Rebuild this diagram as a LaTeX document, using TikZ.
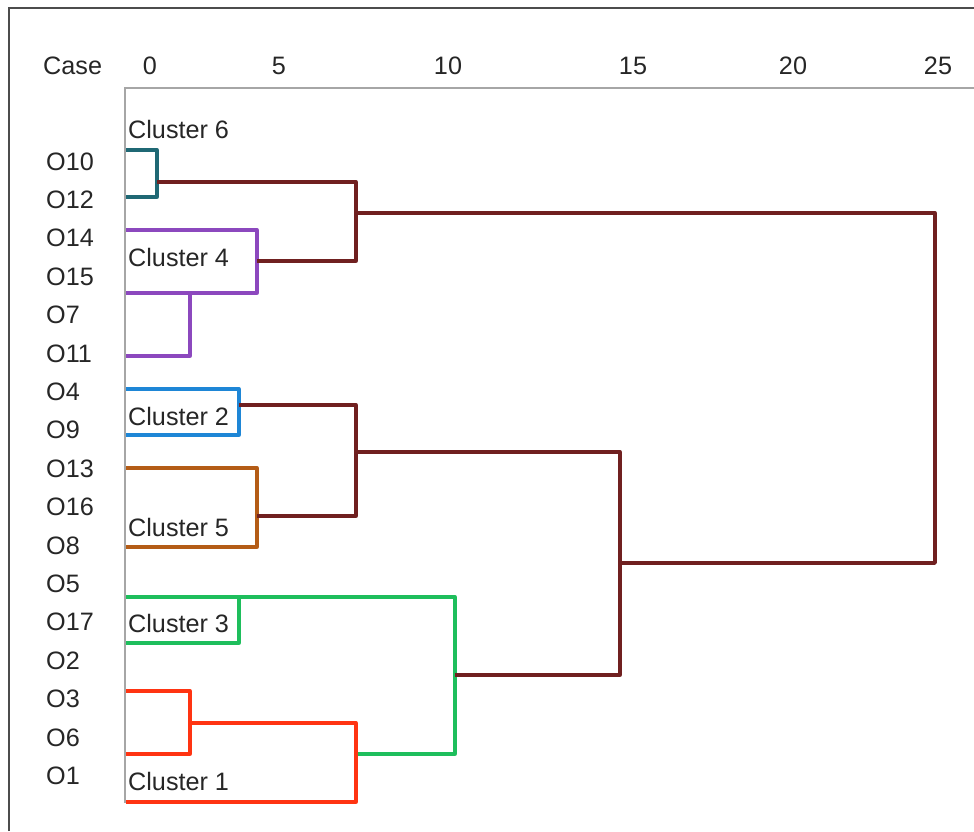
\documentclass[tikz,border=0pt]{standalone}
\usepackage{fontspec}
\setmainfont{Liberation Sans}
\usepackage{xcolor}
\usepackage{tikz}
\usetikzlibrary{positioning, calc}

\definecolor{clteal}{RGB}{31,104,116}
\definecolor{clpurple}{RGB}{140,72,190}
\definecolor{clblue}{RGB}{30,134,214}
\definecolor{clorange}{RGB}{180,92,22}
\definecolor{clgreen}{RGB}{30,190,92}
\definecolor{clred}{RGB}{255,52,18}
\definecolor{clbrown}{RGB}{112,32,32}

\tikzset{
  branch/.style={line width=3.3pt, line join=round, line cap=butt},
  axisline/.style={line width=2pt, color=black!35},
  frameline/.style={line width=2.4pt, color=black!70},
  lbl/.style={anchor=base west, inner sep=0pt, text=black!85, font=\fontsize{25.2}{30}\selectfont},
  tick/.style={anchor=base, inner sep=0pt, text=black!85, font=\fontsize{25.2}{30}\selectfont}
}

\begin{document}
\begin{tikzpicture}[x=1pt, y=-1pt]
  \useasboundingbox (0,0) rectangle (974,831);
  \draw [frameline] (9,831) |- (974,8);
  \draw [axisline] (125,803) |- (974,88);

  \node [lbl] (case) at (43,74) {Case};
  \node [tick] (t0) at (150,74) {0};
  \node [tick] (t5) at (279,74) {5};
  \node [tick] (t10) at (448,74) {10};
  \node [tick] (t15) at (633,74) {15};
  \node [tick] (t20) at (793,74) {20};
  \node [tick] (t25) at (938,74) {25};

  \node [lbl] (o10) at (46,170.0) {O10};
  \node [lbl] (o12) at (46,208.4) {O12};
  \node [lbl] (o14) at (46,246.8) {O14};
  \node [lbl] (o15) at (46,285.2) {O15};
  \node [lbl] (o7) at (46,323.6) {O7};
  \node [lbl] (o11) at (46,362.0) {O11};
  \node [lbl] (o4) at (46,400.4) {O4};
  \node [lbl] (o9) at (46,438.8) {O9};
  \node [lbl] (o13) at (46,477.2) {O13};
  \node [lbl] (o16) at (46,515.6) {O16};
  \node [lbl] (o8) at (46,554.0) {O8};
  \node [lbl] (o5) at (46,592.4) {O5};
  \node [lbl] (o17) at (46,630.8) {O17};
  \node [lbl] (o2) at (46,669.2) {O2};
  \node [lbl] (o3) at (46,707.6) {O3};
  \node [lbl] (o6) at (46,746.0) {O6};
  \node [lbl] (o1) at (46,784.4) {O1};

  % clusters
  \draw [branch, clteal] (126,150) -| (157,197) -- (126,197);
  \draw [branch, clpurple] (126,230) -| (257,293) -- (126,293);
  \draw [branch, clpurple] (190,293) |- (126,356);
  \draw [branch, clblue] (126,389) -| (239,435) -- (126,435);
  \draw [branch, clorange] (126,468) -| (257,547) -- (126,547);
  \draw [branch, clgreen] (126,643) -| (239,597);
  \draw [branch, clgreen] (126,597) -| (455,754) -- (356,754);
  \draw [branch, clred] (126,691) -| (190,754) -- (126,754);
  \draw [branch, clred] (190,723) -| (356,802) -- (126,802);

  % joins
  \draw [branch, clbrown] (157,182) -| (356,261) -- (257,261);
  \draw [branch, clbrown] (239,405) -| (356,516) -- (257,516);
  \draw [branch, clbrown] (356,452) -| (620,675) -- (455,675);
  \draw [branch, clbrown] (356,213) -| (935,563) -- (620,563);

  \node [lbl] (c6) at (128,138) {Cluster 6};
  \node [lbl] (c4) at (128,266) {Cluster 4};
  \node [lbl] (c2) at (128,425) {Cluster 2};
  \node [lbl] (c5) at (128,536) {Cluster 5};
  \node [lbl] (c3) at (128,632) {Cluster 3};
  \node [lbl] (c1) at (128,790) {Cluster 1};
\end{tikzpicture}
\end{document}
